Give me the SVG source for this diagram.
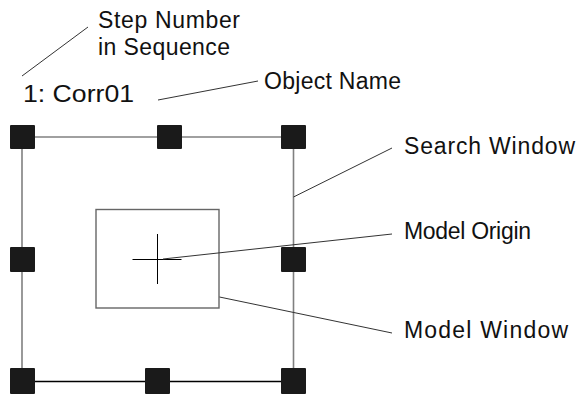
<svg xmlns="http://www.w3.org/2000/svg" width="576" height="394" viewBox="0 0 576 394">
<style>
text{font-family:"Liberation Sans",Arial,sans-serif;font-size:23px;fill:#111}
.frame{stroke:#808080;stroke-width:1.6;fill:none}
.leader{stroke:#333;stroke-width:1;fill:none}
.h{fill:#1a1a1a}
</style>
<rect width="576" height="394" fill="#fff"/>
<g id="search-window">
<line class="frame" x1="22.5" y1="137" x2="293.5" y2="137"/>
<line class="frame" x1="22" y1="137" x2="22" y2="381"/>
<line class="frame" x1="293.5" y1="137" x2="293.5" y2="381"/>
<line x1="22" y1="381.5" x2="293.5" y2="381.5" stroke="#000" stroke-width="1.4"/>
<rect class="h" x="10" y="125" width="25" height="24" rx="1"/>
<rect class="h" x="157" y="125" width="25" height="24" rx="1"/>
<rect class="h" x="281" y="125" width="25" height="24" rx="1"/>
<rect class="h" x="10" y="247" width="25" height="25" rx="1"/>
<rect class="h" x="281" y="247" width="25" height="25" rx="1"/>
<rect class="h" x="10" y="368" width="25" height="26" rx="1"/>
<rect class="h" x="145" y="368" width="25" height="26" rx="1"/>
<rect class="h" x="281" y="368" width="25" height="26" rx="1"/>
</g>
<g id="model-window">
<rect x="96" y="209.5" width="123" height="98.5" fill="none" stroke="#666" stroke-width="1.4"/>
</g>
<g id="model-origin">
<line x1="132.5" y1="259.5" x2="181.5" y2="259.5" stroke="#000" stroke-width="1"/>
<line x1="157.5" y1="234" x2="157.5" y2="284" stroke="#000" stroke-width="1"/>
</g>
<g id="connectors">
<line class="leader" x1="22" y1="76" x2="88" y2="27"/>
<line class="leader" x1="158" y1="100" x2="258" y2="81"/>
<line class="leader" x1="293.5" y1="197" x2="392" y2="148"/>
<line class="leader" x1="163" y1="259" x2="392" y2="234"/>
<line class="leader" x1="219.5" y1="297" x2="392" y2="333"/>
</g>
<g id="labels">
<text x="98" y="28" textLength="142" lengthAdjust="spacing">Step Number</text>
<text x="98" y="55" textLength="132" lengthAdjust="spacing">in Sequence</text>
<text x="23" y="102" textLength="111" lengthAdjust="spacingAndGlyphs">1: Corr01</text>
<text x="264" y="89" textLength="137" lengthAdjust="spacing">Object Name</text>
<text x="404" y="154" textLength="171" lengthAdjust="spacing">Search Window</text>
<text x="404" y="238.5" textLength="127" lengthAdjust="spacing">Model Origin</text>
<text x="404" y="338" textLength="164" lengthAdjust="spacing">Model Window</text>
</g>
</svg>
